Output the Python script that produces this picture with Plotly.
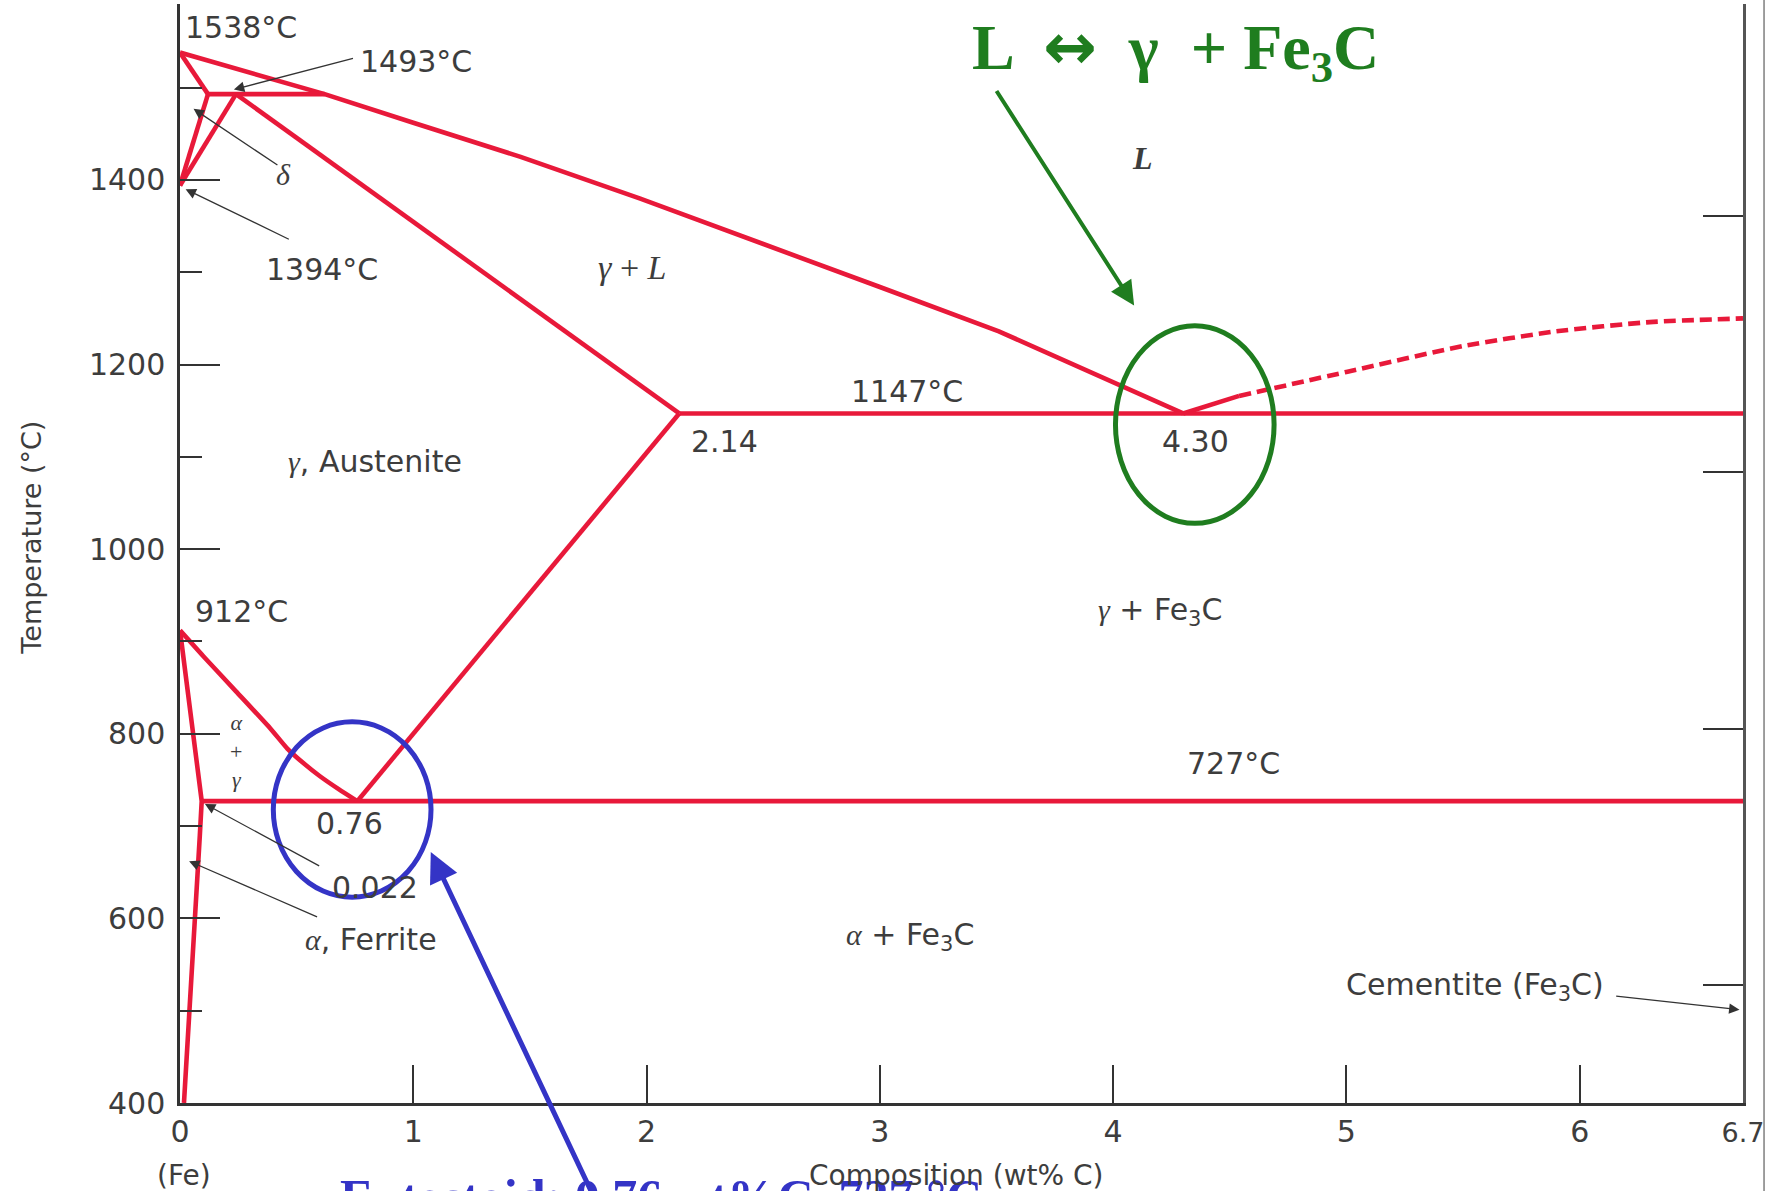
import plotly.graph_objects as go

# ---- Fe–Fe3C phase boundaries (composition in wt% C, temperature in °C) ----
liquidus_x = [0.0, 0.62, 1.0, 1.46, 1.97, 2.5, 3.0, 3.51, 4.0, 4.30]
liquidus_t = [1538, 1493, 1462, 1425, 1380, 1331, 1284, 1236, 1181, 1147]

cem_liq_solid_x = [4.30, 4.54]
cem_liq_solid_t = [1147, 1166]
cem_liq_dash_x = [4.54, 5.0, 5.5, 5.9, 6.3, 6.7]
cem_liq_dash_t = [1166, 1192, 1220, 1236, 1246, 1250]

delta_liq_x = [0.0, 0.12]
delta_liq_t = [1538, 1493]
delta_solvus_x = [0.12, 0.0]
delta_solvus_t = [1493, 1394]
gamma_delta_x = [0.0, 0.24]
gamma_delta_t = [1394, 1493]
peritectic_x = [0.12, 0.62]
peritectic_t = [1493, 1493]

solidus_x = [0.24, 2.14]
solidus_t = [1493, 1147]
eutectic_x = [2.14, 6.7]
eutectic_t = [1147, 1147]
acm_x = [2.14, 0.76]
acm_t = [1147, 727]

a3_x = [0.0, 0.1, 0.24, 0.39, 0.46, 0.53, 0.6, 0.68, 0.76]
a3_t = [912, 884, 846, 805, 784, 768, 754, 740, 727]

alpha_x = [0.0, 0.093, 0.085, 0.064, 0.04, 0.017]
alpha_t = [912, 727, 690, 600, 500, 400]

eutectoid_x = [0.093, 6.7]
eutectoid_t = [727, 727]

# ---- axes ----
x_ticks = [0, 1, 2, 3, 4, 5, 6, 6.7]
x_tick_text = ["0", "1", "2", "3", "4", "5", "6",
               '<span style="font-size:27px">6.7</span>']
t_ticks = [400, 600, 800, 1000, 1200, 1400]
t_minor_ticks = [500, 700, 900, 1100, 1300, 1500]
f_ticks = [1000, 1500, 2000, 2500]          # right-hand Fahrenheit scale
f_offset = 18                               # right scale sits slightly lower
x_range = [0, 6.7]
t_range = [400, 1590.6]

RED = "#e8193a"
GREEN = "#1f7d1f"
BLUE = "#3434c6"
INK = "#3d3d3d"
SANS = "DejaVu Sans"
SERIF = "Liberation Serif"

fig = go.Figure()


def boundary(xs, ts, dash="solid", shape="linear"):
    fig.add_trace(go.Scatter(x=xs, y=ts, mode="lines",
                             line=dict(color=RED, width=4.6, dash=dash,
                                       shape=shape, smoothing=0.6),
                             hoverinfo="skip", showlegend=False))


for xs, ts in [(liquidus_x, liquidus_t), (cem_liq_solid_x, cem_liq_solid_t),
               (delta_liq_x, delta_liq_t), (delta_solvus_x, delta_solvus_t),
               (gamma_delta_x, gamma_delta_t), (peritectic_x, peritectic_t),
               (solidus_x, solidus_t), (eutectic_x, eutectic_t),
               (acm_x, acm_t), (alpha_x, alpha_t),
               (eutectoid_x, eutectoid_t)]:
    boundary(xs, ts)
boundary(a3_x, a3_t, shape="spline")
boundary(cem_liq_dash_x, cem_liq_dash_t, dash="12px,6px", shape="spline")

# empty trace that carries the Fahrenheit axis on the right
fig.add_trace(go.Scatter(x=[None], y=[None], yaxis="y2", showlegend=False,
                         hoverinfo="skip"))


# ---- plain labels ----
def label(text, x, t, anchor="left", size=30, family=SANS, color=INK):
    fig.add_annotation(x=x, y=t, xref="x", yref="y", text=text, showarrow=False,
                       xanchor=anchor, yanchor="middle",
                       font=dict(family=family, size=size, color=color))


def greek(ch):
    return f'<span style="font-family:{SERIF}"><i>{ch}</i></span>'


label("1538°C", 0.012, 1565)
label("1493°C", 0.763, 1528)
label("1394°C", 0.362, 1303)
label("912°C", 0.055, 933)
label("1147°C", 3.116, 1171, "center")
label("2.14", 2.18, 1117)
label("4.30", 4.355, 1117, "center")
label(greek("γ") + " + Fe<sub>3</sub>C", 4.2, 933, "center")
label("727°C", 4.515, 768, "center")
label("0.76", 0.728, 703, "center")
label("0.022", 0.835, 633, "center")
label(greek("α") + ", Ferrite", 0.82, 577, "center")
label(greek("α") + " + Fe<sub>3</sub>C", 3.13, 580, "center")
label("Cementite (Fe<sub>3</sub>C)", 5.552, 526, "center")
label(greek("γ") + ", Austenite", 0.835, 1095, "center")

label("<i>δ</i>", 0.444, 1406, "center", 30, SERIF)
label("<i>γ</i> + <i>L</i>", 1.939, 1305, "center", 34, SERIF)
label("<b><i>L</i></b>", 4.124, 1424, "center", 32, SERIF)
label("<i>α</i><br>+<br><i>γ</i>", 0.242, 781, "center", 22, SERIF)


# ---- thin pointer arrows from labels to points ----
def pointer(x_tail, t_tail, x_head, t_head):
    fig.add_annotation(x=x_head, y=t_head, ax=x_tail, ay=t_tail,
                       xref="x", yref="y", axref="x", ayref="y", text="",
                       showarrow=True, arrowhead=2, arrowsize=1.6,
                       arrowwidth=1.3, arrowcolor="#333333")


pointer(0.748, 1532, 0.231, 1498)
pointer(0.424, 1415, 0.058, 1477)
pointer(0.473, 1335, 0.024, 1390)
pointer(0.603, 656, 0.107, 724)
pointer(0.594, 601, 0.039, 662)
pointer(6.15, 516, 6.685, 501)

# ---- highlighted invariant points ----
fig.add_shape(type="circle", xref="x", yref="y", x0=4.01, x1=4.69,
              y0=1028, y1=1242, line=dict(color=GREEN, width=5))
fig.add_shape(type="circle", xref="x", yref="y", x0=0.40, x1=1.076,
              y0=623, y1=813, line=dict(color=BLUE, width=5))

arrow_span = '<span style="font-family:DejaVu Sans">↔</span>'
fig.add_annotation(x=3.386, y=0.9576, xref="x", yref="paper",
                   text=f"L  {arrow_span}  γ  + Fe<sub>3</sub>C", showarrow=False,
                   xanchor="left", yanchor="middle",
                   font=dict(family=SERIF, size=64, color=GREEN, weight="bold"))
fig.add_annotation(x=4.09, y=1264, ax=3.496, ay=1498, xref="x", yref="y",
                   axref="x", ayref="y", text="", showarrow=True,
                   arrowhead=2, arrowsize=1.2, arrowwidth=4, arrowcolor=GREEN)

fig.add_annotation(x=1.075, y=672, ax=1.808, ay=280, xref="x", yref="y",
                   axref="x", ayref="y", text="", showarrow=True,
                   arrowhead=2, arrowsize=1.2, arrowwidth=5, arrowcolor=BLUE)
fig.add_annotation(x=0.677, y=-0.0585, xref="x", yref="paper",
                   text="Eutectoid: 0.76 wt%C, 727 °C", showarrow=False,
                   xanchor="left", yanchor="top",
                   font=dict(family=SERIF, size=50, color=BLUE, weight="bold"))

# ---- axis titles ----
fig.add_annotation(x=3.33, y=-0.0664, xref="x", yref="paper",
                   text="Composition (wt% C)", showarrow=False,
                   xanchor="center", yanchor="middle",
                   font=dict(family=SANS, size=28, color=INK))
fig.add_annotation(x=0.015, y=-0.0664, xref="x", yref="paper", text="(Fe)",
                   showarrow=False, xanchor="center", yanchor="middle",
                   font=dict(family=SANS, size=28, color=INK))
fig.add_annotation(x=-0.095, y=0.514, xref="paper", yref="paper",
                   text="Temperature (°C)", textangle=-90, showarrow=False,
                   xanchor="center", yanchor="middle",
                   font=dict(family=SANS, size=27, color=INK))

# frame edge on the far right
fig.add_shape(type="line", xref="paper", yref="paper", x0=1.0135, x1=1.0135,
              y0=-0.1, y1=1.01, line=dict(color="#9a9a9a", width=2))

axis_font = dict(family=SANS, size=30, color=INK)
fig.update_layout(
    width=1765, height=1191,
    margin=dict(l=180, r=22, t=4, b=88, autoexpand=False),
    plot_bgcolor="white", paper_bgcolor="white",
    showlegend=False,
    xaxis=dict(range=x_range, tickvals=x_ticks, ticktext=x_tick_text,
               ticks="inside", ticklen=38, tickwidth=2, tickcolor="#333333",
               showline=True, linecolor="#333333", linewidth=2.5,
               showgrid=False, zeroline=False, tickfont=axis_font,
               ticklabelstandoff=0, ticklabeloverflow="allow",
               automargin=False),
    yaxis=dict(range=t_range, tickvals=t_ticks, ticks="inside", ticklen=40,
               tickwidth=2, tickcolor="#333333",
               minor=dict(tickvals=t_minor_ticks, ticks="inside", ticklen=22,
                          tickwidth=2, tickcolor="#333333"),
               showline=True, linecolor="#333333", linewidth=2.5,
               showgrid=False, zeroline=False, tickfont=axis_font,
               ticklabelstandoff=6, automargin=False),
    yaxis2=dict(overlaying="y", side="right",
                range=[t_range[0] * 1.8 + 32 + f_offset,
                       t_range[1] * 1.8 + 32 + f_offset],
                tickvals=f_ticks, ticks="inside", ticklen=40, tickwidth=2,
                tickcolor="#333333", showticklabels=False, showline=True,
                linecolor="#555555", linewidth=2.5, showgrid=False,
                zeroline=False, automargin=False),
)

fig.write_html("out.html")
